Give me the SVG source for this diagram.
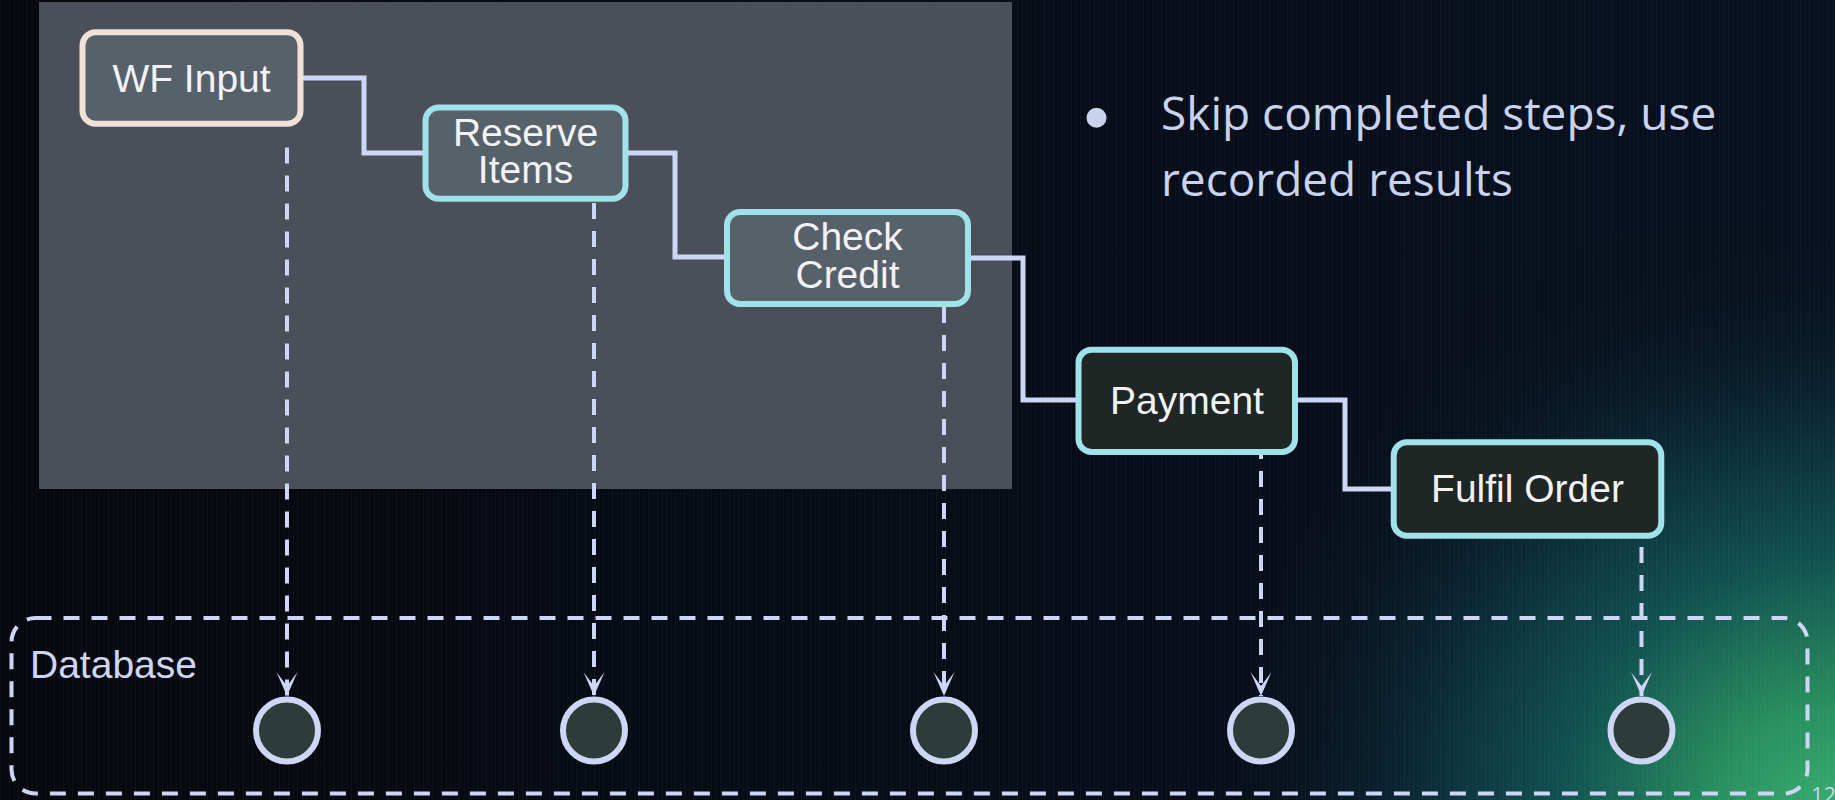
<svg xmlns="http://www.w3.org/2000/svg" width="1835" height="800" viewBox="0 0 1835 800">
  <defs>
    <radialGradient id="glow" cx="1835" cy="820" r="660" gradientUnits="userSpaceOnUse" gradientTransform="translate(1835 820) scale(1 0.95) translate(-1835 -820)">
      <stop offset="0" stop-color="#3aae70"/>
      <stop offset="0.18" stop-color="#29905f"/>
      <stop offset="0.42" stop-color="#115050"/>
      <stop offset="0.68" stop-color="#0a2230"/>
      <stop offset="1" stop-color="#070b13" stop-opacity="0"/>
    </radialGradient>
    <linearGradient id="base" x1="0" y1="0" x2="1" y2="0">
      <stop offset="0" stop-color="#06080d"/>
      <stop offset="1" stop-color="#081020"/>
    </linearGradient>
    <pattern id="grain" width="9" height="800" patternUnits="userSpaceOnUse">
      <rect x="0" y="0" width="1" height="800" fill="#ffffff" opacity="0.035"/>
      <rect x="5" y="0" width="1" height="800" fill="#ffffff" opacity="0.02"/>
    </pattern>
    <marker id="arrow" markerUnits="userSpaceOnUse" viewBox="-26 -12 27 24" refX="0" refY="0" markerWidth="27" markerHeight="24" orient="auto">
      <path d="M0,0 L-24,-10.5 L-10,0 L-24,10.5 Z" fill="#cdd6f4"/>
    </marker>
    <style>
      .step { stroke-width: 6; }
      .done rect { fill: #56616a; }
      .todo rect { fill: #1f2624; }
      .cyan rect { stroke: #9fe2ea; }
      .label { font-family: "Liberation Sans", Arial, sans-serif; font-size: 39px; fill: #f2f2f6; text-anchor: middle; }
      .flow { fill: none; stroke: #cdd6f4; stroke-width: 5; stroke-linejoin: miter; }
      .record { fill: none; stroke: #cdd6f4; stroke-width: 4; stroke-dasharray: 16 12; }
      .store { fill: #2d3b3a; stroke: #cdd6f4; stroke-width: 6; }
      .note { font-family: "Open Sans", "Noto Sans", sans-serif; font-size: 46px; fill: #c9d3ee; }
    </style>
  </defs>

  <!-- background -->
  <rect x="0" y="0" width="1835" height="800" fill="url(#base)"/>
  <rect x="0" y="0" width="1835" height="800" fill="url(#glow)"/>
  <rect x="0" y="0" width="1835" height="800" fill="url(#grain)"/>

  <!-- replayed region -->
  <rect id="replayed" x="39" y="2" width="973" height="487" fill="#4a4f5a"/>

  <!-- database group -->
  <g id="database">
    <rect x="11.5" y="618" width="1796" height="175.5" rx="24" fill="none" stroke="#cdd6f4" stroke-width="4" stroke-dasharray="16 12"/>
    <text x="30" y="677.5" class="label" style="text-anchor:start;fill:#cdd6f4">Database</text>
  </g>

  <!-- connectors -->
  <g id="connectors">
    <path class="flow" d="M303,78 H364 V153 H423"/>
    <path class="flow" d="M628,153 H675 V257 H724"/>
    <path class="flow" d="M971,258 H1023 V400 H1076"/>
    <path class="flow" d="M1298,400 H1345 V489 H1391"/>
    <path class="record" d="M287,147.5 V696" marker-end="url(#arrow)"/>
    <path class="record" d="M594,203 V696" marker-end="url(#arrow)"/>
    <path class="record" d="M944,307 V696" marker-end="url(#arrow)"/>
    <path class="record" d="M1261,443 V696" marker-end="url(#arrow)"/>
    <path class="record" d="M1641.5,547 V696" marker-end="url(#arrow)"/>
  </g>

  <!-- workflow steps -->
  <g id="wf-input" class="done">
    <rect class="step" x="82.5" y="32.3" width="218" height="91.4" rx="13" stroke="#f1e2d8"/>
    <text class="label" x="191.5" y="92">WF Input</text>
  </g>
  <g id="reserve-items" class="done cyan">
    <rect class="step" x="425.5" y="107.5" width="200" height="91.2" rx="13"/>
    <text class="label" x="525.5" y="145.7">Reserve</text>
    <text class="label" x="525.5" y="183.3">Items</text>
  </g>
  <g id="check-credit" class="done cyan">
    <rect class="step" x="727" y="212" width="241" height="92" rx="13"/>
    <text class="label" x="847.5" y="249.5">Check</text>
    <text class="label" x="847.5" y="288">Credit</text>
  </g>
  <g id="payment" class="todo cyan">
    <rect class="step" x="1078.5" y="349.7" width="216.5" height="102.3" rx="13"/>
    <text class="label" x="1187" y="414">Payment</text>
  </g>
  <g id="fulfil-order" class="todo cyan">
    <rect class="step" x="1393.7" y="442.3" width="267.6" height="93.4" rx="13"/>
    <text class="label" x="1527.5" y="502.3">Fulfil Order</text>
  </g>

  <!-- recorded results -->
  <g id="record-1"><circle class="store" cx="287" cy="730.5" r="31"/></g>
  <g id="record-2"><circle class="store" cx="594" cy="730.5" r="31"/></g>
  <g id="record-3"><circle class="store" cx="944" cy="730.5" r="31"/></g>
  <g id="record-4"><circle class="store" cx="1261" cy="730.5" r="31"/></g>
  <g id="record-5"><circle class="store" cx="1641.5" cy="730.5" r="31"/></g>

  <!-- note -->
  <g id="note">
    <circle cx="1096.5" cy="117.7" r="10" fill="#c9d3ee"/>
    <text class="note" x="1161" y="130">Skip completed steps, use</text>
    <text class="note" x="1161" y="196">recorded results</text>
  </g>

  <text x="1811" y="803" font-family="Open Sans, Noto Sans, sans-serif" font-size="22" fill="#c9d3e4">12</text>
</svg>
